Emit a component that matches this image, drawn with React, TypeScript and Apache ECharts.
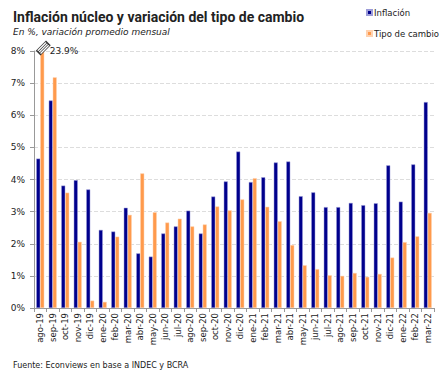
import React, { useEffect, useRef } from "react";
import * as echarts from "echarts";

const categories = [
  "ago-19", "sep-19", "oct-19", "nov-19", "dic-19",
  "ene-20", "feb-20", "mar-20", "abr-20", "may-20", "jun-20", "jul-20", "ago-20", "sep-20", "oct-20", "nov-20", "dic-20",
  "ene-21", "feb-21", "mar-21", "abr-21", "may-21", "jun-21", "jul-21", "ago-21", "sep-21", "oct-21", "nov-21", "dic-21",
  "ene-22", "feb-22", "mar-22",
];

const inflacion = [
  4.65, 6.46, 3.81, 3.98, 3.69,
  2.43, 2.38, 3.12, 1.7, 1.6, 2.32, 2.54, 3.03, 2.32, 3.47, 3.94, 4.87,
  3.92, 4.07, 4.53, 4.56, 3.48, 3.6, 3.14, 3.14, 3.27, 3.2, 3.26, 4.44,
  3.31, 4.47, 6.41,
];

const tipoCambio = [
  23.9, 7.18, 3.59, 2.06, 0.23,
  0.19, 2.22, 2.9, 4.19, 2.98, 2.66, 2.78, 2.54, 2.6, 3.16, 3.04, 3.38,
  4.04, 3.15, 2.7, 1.96, 1.33, 1.21, 1.02, 1.0, 1.09, 0.97, 1.06, 1.57,
  2.05, 2.23, 2.96,
];

const yMax = 8;
const FONT = "DejaVu Sans";

export default function App() {
  const ref = useRef<HTMLDivElement>(null);
  useEffect(() => {
    if (!ref.current) return;
    const chart = echarts.init(ref.current, null, { renderer: "svg" });
    const breakIdx = tipoCambio.findIndex((v) => v > yMax);
    chart.setOption({
      animation: false,
      backgroundColor: "#fff",
      textStyle: { fontFamily: FONT },
      title: [
        {
          text: "Inflación núcleo y variación del tipo de cambio",
          left: 8,
          top: 5,
          textStyle: { fontFamily: "Roboto", fontWeight: "bold", fontSize: 14, color: "#222" },
        },
        {
          text: "En %, variación promedio mensual",
          left: 8,
          top: 22,
          textStyle: { fontFamily: FONT, fontStyle: "italic", fontWeight: "normal", fontSize: 9, color: "#222" },
        },
        {
          text: "Fuente: Econviews en base a INDEC y BCRA",
          left: 8,
          top: 356,
          textStyle: { fontFamily: FONT, fontWeight: "normal", fontSize: 8, color: "#222" },
        },
      ],
      legend: {
        orient: "vertical",
        left: 361,
        top: 3,
        icon: "rect",
        itemWidth: 5,
        itemHeight: 5,
        itemGap: 12,
        textStyle: { fontFamily: FONT, fontSize: 8.5, color: "#222", padding: [0, 0, 0, -3] },
        data: ["Inflación", "Tipo de cambio"],
      },
      grid: { left: 34, right: 9, top: 51, bottom: 65 },
      xAxis: {
        type: "category",
        data: categories,
        axisLine: { lineStyle: { color: "#999" } },
        axisTick: { show: true, alignWithLabel: false, length: 4, lineStyle: { color: "#999" } },
        axisLabel: { rotate: 90, interval: 0, fontSize: 8.5, color: "#222", fontFamily: FONT, margin: 5 },
      },
      yAxis: {
        type: "value",
        min: 0,
        max: yMax,
        interval: 1,
        axisLine: { show: true, lineStyle: { color: "#999" } },
        axisTick: { show: true, length: 4, lineStyle: { color: "#999" } },
        axisLabel: { formatter: "{value}%", fontSize: 9, color: "#222", fontFamily: FONT, margin: 9 },
        splitLine: { lineStyle: { color: "#ddd", type: [4, 2] } },
      },
      series: [
        {
          name: "Inflación",
          type: "bar",
          data: inflacion,
          barWidth: 4,
          barGap: "0%",
          itemStyle: { color: "#00008C", borderColor: "#9C9CD8", borderWidth: 0.5 },
        },
        {
          name: "Tipo de cambio",
          type: "bar",
          data: tipoCambio,
          barWidth: 4,
          barGap: "0%",
          itemStyle: { color: "#FF9A4C", borderColor: "#FFD2B0", borderWidth: 0.5 },
          markPoint: {
            symbol: "path://M0,0 H13 V6 H0 Z M0,2 H13 M0,4 H13",
            symbolSize: [13, 6],
            symbolRotate: 45,
            symbolOffset: [1, -3],
            itemStyle: { color: "#fff", borderColor: "#333", borderWidth: 1 },
            label: {
              show: true,
              position: "right",
              distance: 4,
              offset: [-5, 3],
              fontFamily: FONT,
              fontSize: 9,
              color: "#222",
              formatter: () => tipoCambio[breakIdx].toFixed(1) + "%",
            },
            data: breakIdx >= 0 ? [{ coord: [categories[breakIdx], yMax] }] : [],
          },
        },
      ],
    });
    return () => chart.dispose();
  }, []);
  return <div ref={ref} style={{ position: "fixed", left: 0, top: 0, width: 443, height: 373 }} />;
}
